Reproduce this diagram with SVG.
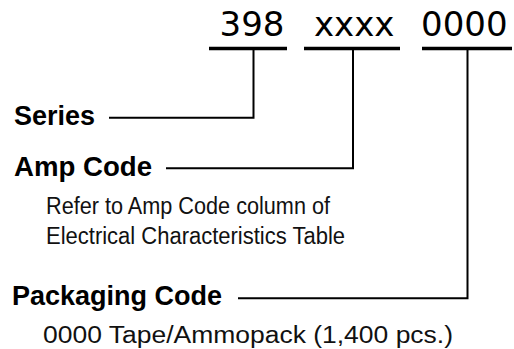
<svg xmlns="http://www.w3.org/2000/svg" width="514" height="349" viewBox="0 0 514 349">
<style>
.code{font-family:"DejaVu Sans",sans-serif;font-size:34px;fill:#000}
.lbl{font-family:"Liberation Sans",Arial,sans-serif;font-weight:bold;font-size:27px;fill:#000}
.desc{font-family:"Liberation Sans",Arial,sans-serif;font-size:23px;fill:#111}
.ul{stroke:#000;stroke-width:3.5;fill:none}
.ln{stroke:#000;stroke-width:2;fill:none}
</style>
<rect width="514" height="349" fill="#fff"/>
<g id="code-series">
<text class="code" x="219.5" y="36">398</text>
<line class="ul" x1="209" y1="48.5" x2="287" y2="48.5"/>
</g>
<g id="code-amp">
<text class="code" x="314" y="36">xxxx</text>
<line class="ul" x1="304" y1="48.5" x2="400" y2="48.5"/>
</g>
<g id="code-packaging">
<text class="code" x="421" y="36">0000</text>
<line class="ul" x1="422" y1="48.5" x2="512" y2="48.5"/>
</g>
<g id="series">
<text class="lbl" x="14" y="125" textLength="81" lengthAdjust="spacingAndGlyphs">Series</text>
</g>
<g id="amp-code">
<text class="lbl" x="14" y="176" textLength="138" lengthAdjust="spacingAndGlyphs">Amp Code</text>
<text class="desc" x="46" y="214" textLength="284" lengthAdjust="spacingAndGlyphs">Refer to Amp Code column of</text>
<text class="desc" x="46" y="244" textLength="299" lengthAdjust="spacingAndGlyphs">Electrical Characteristics Table</text>
</g>
<g id="packaging-code">
<text class="lbl" x="12" y="305" textLength="210" lengthAdjust="spacingAndGlyphs">Packaging Code</text>
<text class="desc" x="43" y="343" textLength="410" lengthAdjust="spacingAndGlyphs">0000 Tape/Ammopack (1,400 pcs.)</text>
</g>
<g id="connectors">
<polyline class="ln" points="109,117.7 253.5,117.7 253.5,48"/>
<polyline class="ln" points="166,168.3 353,168.3 353,48"/>
<polyline class="ln" points="238,298.3 467.5,298.3 467.5,48"/>
</g>
</svg>
